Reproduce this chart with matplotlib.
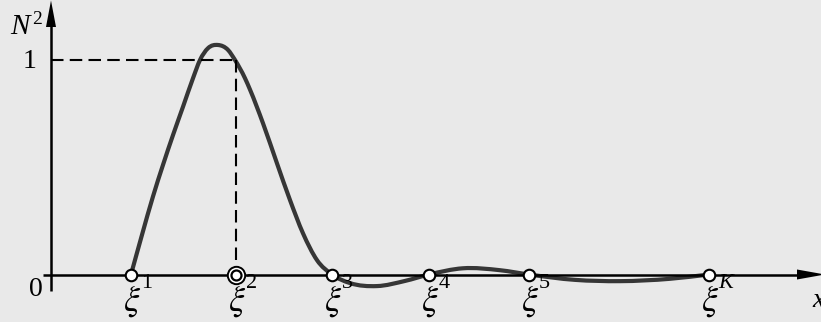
import numpy as np
import matplotlib.pyplot as plt
from matplotlib.path import Path
from matplotlib.patches import PathPatch

plt.rcParams['mathtext.fontset'] = 'stix'
plt.rcParams['font.family'] = 'Liberation Serif'

# узлы и подписи
node_x = [131, 236, 332, 429, 529, 709]
node_sup = ['1', '2', '3', '4', '5', 'K']

# точки кривой (x в пикселях, y в долях уровня 1)
curve_x = [131, 142, 153, 163, 173, 183, 193, 200, 208, 218, 228, 235, 245, 250, 263,
           277, 290, 303, 317, 332, 350, 377, 405, 429, 463, 500, 529, 575, 620, 670, 709]
curve_y = [0.0, 0.185, 0.364, 0.511, 0.650, 0.782, 0.915, 1.0, 1.055, 1.070, 1.047, 1.0,
           0.915, 0.862, 0.705, 0.518, 0.347, 0.192, 0.067, 0.0, -0.04, -0.054, -0.03,
           0.0, 0.029, 0.02, 0.0, -0.025, -0.031, -0.02, 0.0]

bg = '#e9e9e9'
W, H = 821, 322
y0, unit = 274.5, 214.5  # пиксели оси x и единицы

fig = plt.figure(figsize=(W / 100, H / 100), dpi=100, facecolor=bg)
ax = fig.add_axes([0, 0, 1, 1])
ax.set_facecolor(bg)
ax.set_xlim(0, W)
ax.set_ylim((y0 - H) / unit, y0 / unit)
ax.axis('off')

px = 1.0 / unit  # один пиксель по вертикали

# оси
ax.plot([43, 800], [0, 0], color='black', lw=1.8, solid_capstyle='butt')
ax.plot([51, 51], [-16.5 * px, (y0 - 24) / unit], color='black', lw=1.8, solid_capstyle='butt')
ax.fill([797, 825, 797], [5 * px, 0, -5 * px], color='black', lw=0)
ax.fill([46, 51, 56], [(y0 - 27) / unit, (y0 - 0.5) / unit, (y0 - 27) / unit], color='black', lw=0)

# пунктир к уровню 1
ax.plot([51, 236], [1, 1], color='black', lw=1.5, dashes=(6, 3), dash_capstyle='butt')
ax.plot([236, 236], [1, 0], color='black', lw=1.5, dashes=(6, 3), dash_capstyle='butt')

# гладкая кривая: кубический Эрмит по x -> Безье
xs = np.array(curve_x, dtype=float)
ys = np.array(curve_y, dtype=float)
m = np.gradient(ys, xs)
verts = [(xs[0], ys[0])]
codes = [Path.MOVETO]
for i in range(len(xs) - 1):
    dx = xs[i + 1] - xs[i]
    verts += [(xs[i] + dx / 3, ys[i] + m[i] * dx / 3),
              (xs[i + 1] - dx / 3, ys[i + 1] - m[i + 1] * dx / 3),
              (xs[i + 1], ys[i + 1])]
    codes += [Path.CURVE4] * 3
ax.add_patch(PathPatch(Path(verts, codes), facecolor='none', edgecolor='#363636',
                       lw=3.0, capstyle='round', joinstyle='round'))

# узлы
ax.plot(node_x, [0] * len(node_x), 'o', ms=8.3, mfc='white', mec='black', mew=1.5)
ax.plot(node_x[1], 0, 'o', ms=12.5, mfc='white', mec='black', mew=1.4)
ax.plot(node_x[1], 0, 'o', ms=7.2, mfc='white', mec='black', mew=1.6)

for xx, sup in zip(node_x, node_sup):
    ax.text(xx + 1, -26.5 * px, r'$\xi$', fontsize=26, ha='center', va='center')
    if sup == 'K':
        ax.text(xx + 9, -9 * px, sup, fontsize=16, style='italic', ha='left', va='center')
    else:
        ax.text(xx + 10, -9 * px, sup, fontsize=16, ha='left', va='center')

# подписи осей
ax.text(36, -14.5 * px, '0', fontsize=20, ha='center', va='center')
ax.text(30, -2 * px + 1, '1', fontsize=20, ha='center', va='center')
ax.text(20, (y0 - 27) / unit, 'N', fontsize=21, style='italic', ha='center', va='center')
ax.text(32, (y0 - 19) / unit, '2', fontsize=14, ha='left', va='center')
ax.text(812, -26 * px, 'x', fontsize=20, style='italic', ha='left', va='center')

fig.savefig('out.png', dpi=100, facecolor=bg)
plt.close(fig)
